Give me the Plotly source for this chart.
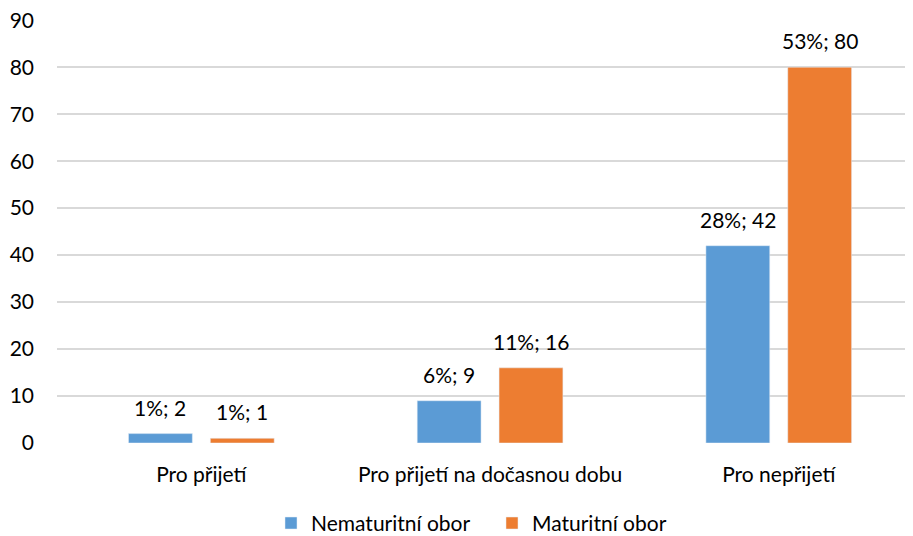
import plotly.graph_objects as go

# data
categories = ['Pro přijetí', 'Pro přijetí na dočasnou dobu', 'Pro nepřijetí']
nematuritni = [2, 9, 42]
nematuritni_pct = ['1%', '6%', '28%']
maturitni = [1, 16, 80]
maturitni_pct = ['1%', '11%', '53%']
y_ticks = [0, 10, 20, 30, 40, 50, 60, 70, 80, 90]

COLORS = {'nemat': '#5B9BD5', 'mat': '#ED7D31', 'grid': '#D9D9D9'}
FONT = 'Lato, Open Sans, sans-serif'

fig = go.Figure()

fig.add_trace(go.Bar(x=categories, y=nematuritni, name='Nematuritní obor',
                     marker_color=COLORS['nemat']))
fig.add_trace(go.Bar(x=categories, y=maturitni, name='Maturitní obor',
                     marker_color=COLORS['mat']))

# popisky dat nad sloupci
for vals, pcts, shift in [(nematuritni, nematuritni_pct, -41), (maturitni, maturitni_pct, 41)]:
    for cat, v, p in zip(categories, vals, pcts):
        fig.add_annotation(x=cat, y=v, text=f'{p}; {v}', showarrow=False,
                           xshift=shift, yshift=12, yanchor='bottom',
                           font=dict(size=21, color='#000000'))

# stranka ma okraj 8 px, proto je graf o 8 px mensi
fig.update_layout(
    width=905, height=528,
    margin=dict(l=49, r=0, t=12, b=93, autoexpand=False),
    paper_bgcolor='white', plot_bgcolor='white',
    font=dict(family=FONT, size=21, color='#000000'),
    barmode='group', bargap=0.433, bargroupgap=0.22,
    legend=dict(orientation='h', x=0.25, xanchor='left', y=-0.19, yanchor='middle',
                font=dict(size=21), itemwidth=30, entrywidth=176,
                traceorder='normal'),
    showlegend=True,
)
fig.update_yaxes(range=[0, 90.05], tickvals=y_ticks, showgrid=True, gridcolor=COLORS['grid'],
                 gridwidth=1.5, zeroline=False, showline=False, ticks='',
                 ticklabelstandoff=22, ticklabeloverflow='allow', automargin=False)
fig.update_xaxes(range=[-0.5, 2.465], showline=False, ticks='',
                 ticklabelstandoff=17, automargin=False)

fig.write_html("out.html")
